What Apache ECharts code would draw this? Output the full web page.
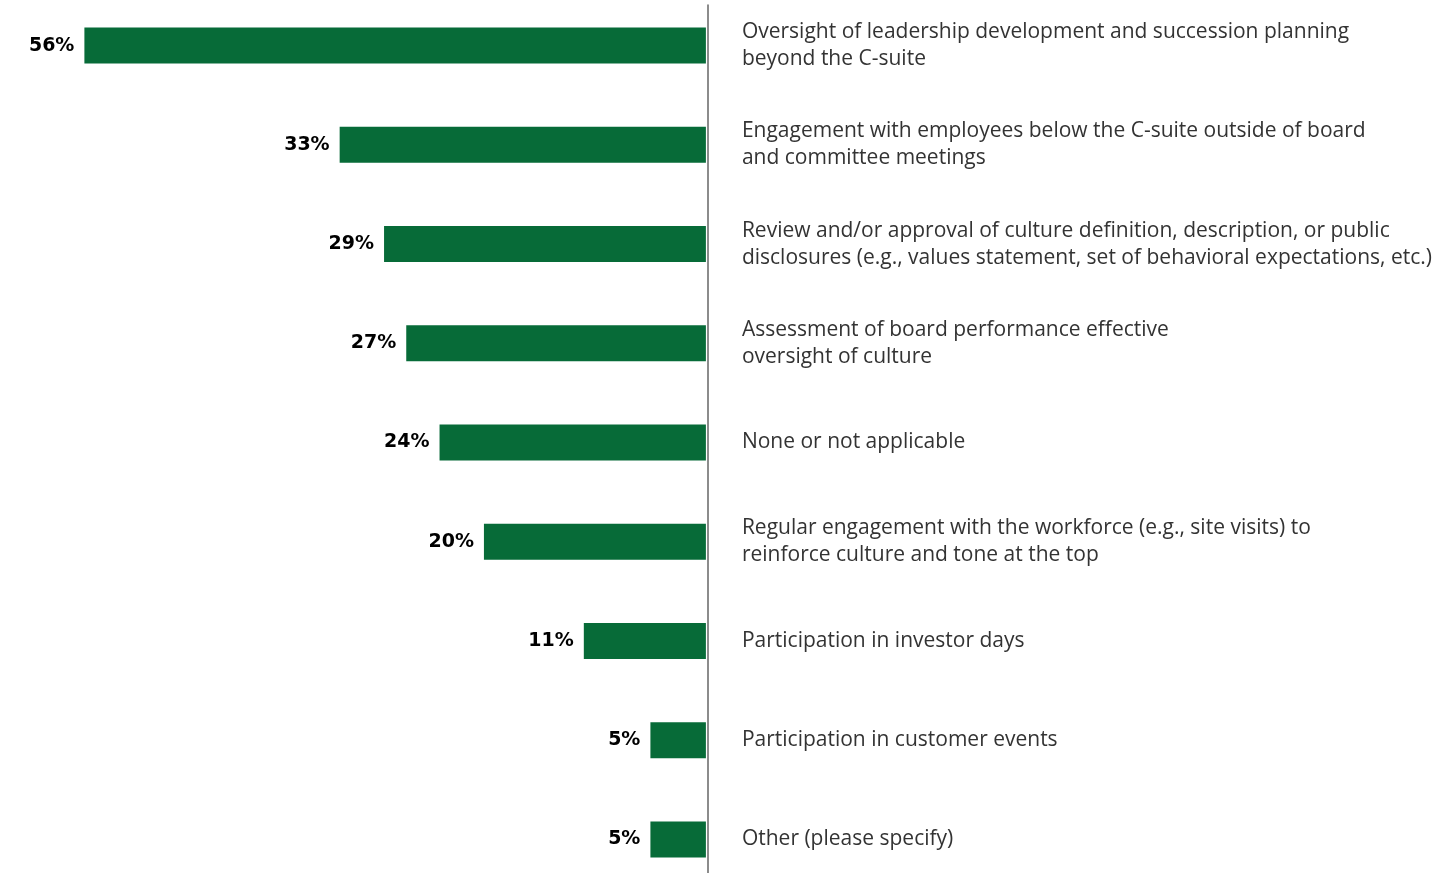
<!DOCTYPE html>
<html>
<head>
<meta charset="utf-8">
<script src="https://cdn.jsdelivr.net/npm/echarts@6/dist/echarts.min.js"></script>
<style>
  html, body { margin: 0; padding: 0; background: #ffffff; overflow: hidden; width: 1435px; height: 873px; }
  /* the category bands are ~99px tall, so the drawing area runs a little past the page edges */
  #chart { width: 1435px; height: 893px; margin-top: -4px; }
</style>
</head>
<body>
<div id="chart"></div>
<script>
// Board activities related to culture oversight (share of respondents, %)
const categories = [
  'Oversight of leadership development and succession planning\nbeyond the C-suite',
  'Engagement with employees below the C-suite outside of board\nand committee meetings',
  'Review and/or approval of culture definition, description, or public\ndisclosures (e.g., values statement, set of behavioral expectations, etc.)',
  'Assessment of board performance effective\noversight of culture',
  'None or not applicable',
  'Regular engagement with the workforce (e.g., site visits) to\nreinforce culture and tone at the top',
  'Participation in investor days',
  'Participation in customer events',
  'Other (please specify)'
];
const values = [56, 33, 29, 27, 24, 20, 11, 5, 5];

const BAR_GREEN = '#076b38';
const AXIS_GREY = '#666666';

const chart = echarts.init(document.getElementById('chart'), null, { renderer: 'canvas' });

chart.setOption({
  animation: false,
  backgroundColor: '#ffffff',
  grid: [
    // bars
    { left: 40, right: 726, top: 0, bottom: 0, containLabel: false },
    // divider line running down the chart
    { left: 40, right: 727, top: 9, bottom: 0, containLabel: false }
  ],
  xAxis: [
    { gridIndex: 0, type: 'value', min: 0, max: 60, inverse: true, show: false },
    { gridIndex: 1, type: 'value', min: 0, max: 60, inverse: true, show: false }
  ],
  yAxis: [
    {
      gridIndex: 0,
      type: 'category',
      data: categories,
      inverse: true,
      position: 'right',
      axisLine: { show: false },
      axisTick: { show: false },
      splitLine: { show: false },
      axisLabel: {
        margin: 36,
        align: 'left',
        fontFamily: '"Open Sans", sans-serif',
        fontSize: 21,
        lineHeight: 27,
        color: '#333333'
      }
    },
    {
      gridIndex: 1,
      type: 'category',
      data: [],
      position: 'right',
      z: 5,
      axisLine: { show: true, onZero: false, lineStyle: { color: AXIS_GREY, width: 1.5 } },
      axisTick: { show: false },
      axisLabel: { show: false },
      splitLine: { show: false }
    }
  ],
  series: [
    {
      type: 'bar',
      xAxisIndex: 0,
      yAxisIndex: 0,
      data: values,
      barWidth: 36,
      itemStyle: { color: BAR_GREEN },
      label: {
        show: true,
        position: 'left',
        distance: 10,
        formatter: '{c}%',
        fontFamily: '"DejaVu Sans", Verdana, sans-serif',
        fontWeight: 'bold',
        fontSize: 19,
        color: '#000000'
      }
    }
  ]
});
</script>
</body>
</html>
